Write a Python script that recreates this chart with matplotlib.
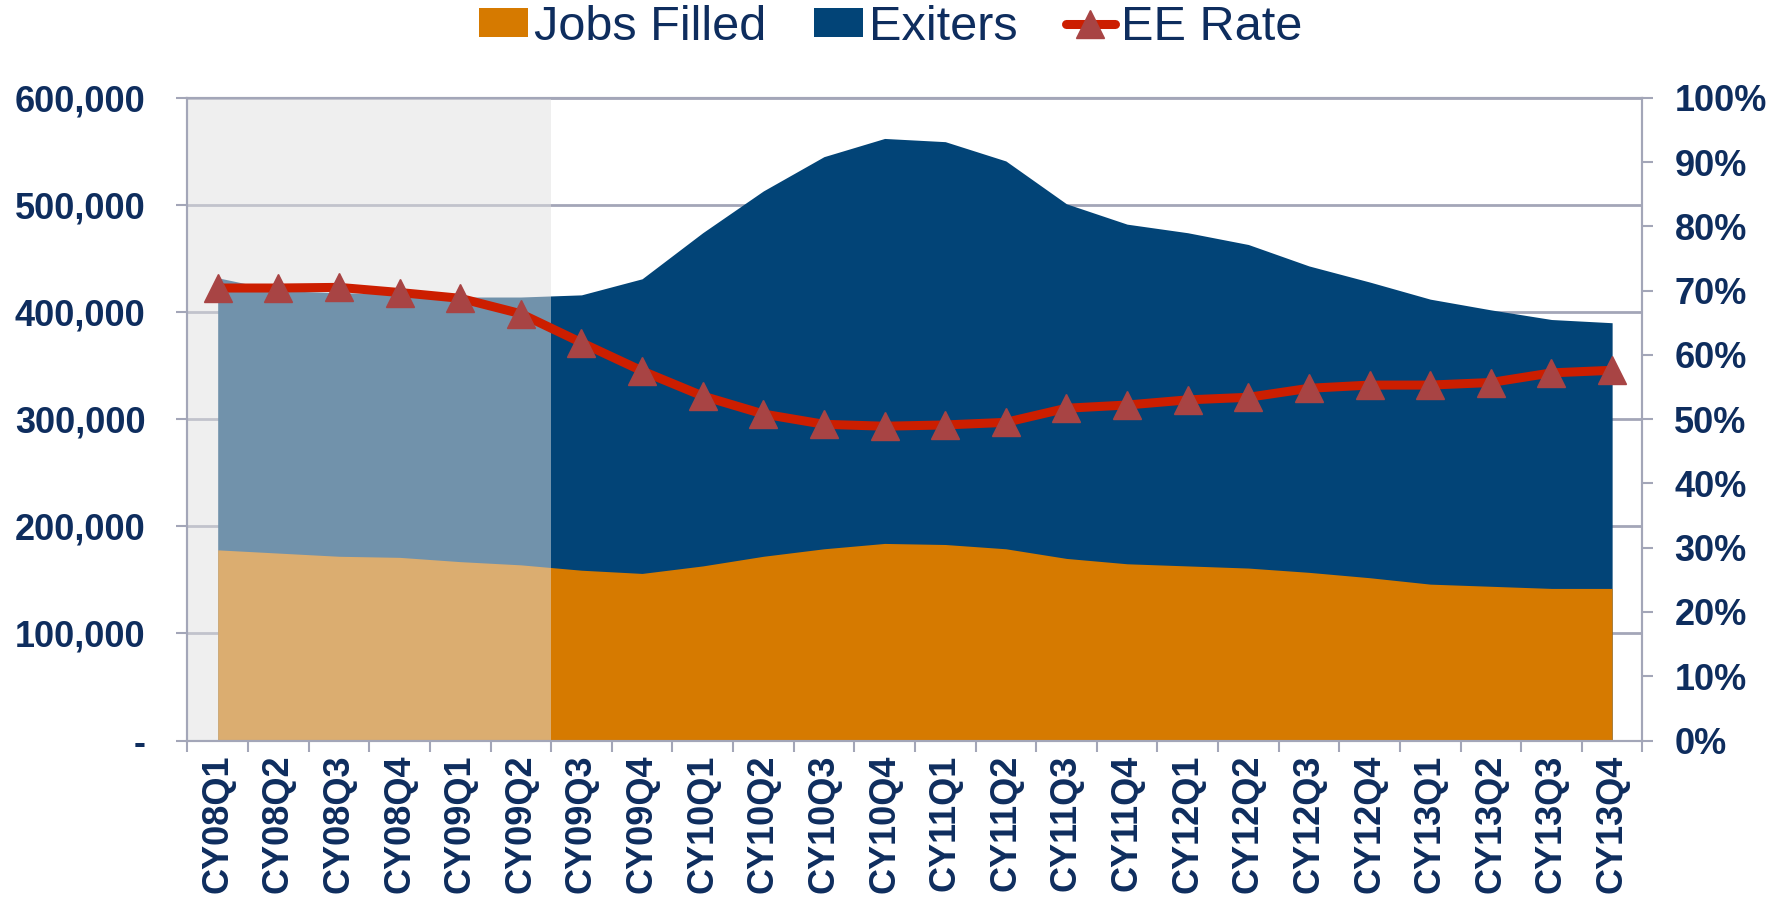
import numpy as np
import matplotlib
matplotlib.use('Agg')
import matplotlib.pyplot as plt
from matplotlib.patches import Patch
from matplotlib.lines import Line2D
from matplotlib.ticker import FuncFormatter, MultipleLocator

# quarterly values
quarters = ['CY08Q1', 'CY08Q2', 'CY08Q3', 'CY08Q4', 'CY09Q1', 'CY09Q2',
            'CY09Q3', 'CY09Q4', 'CY10Q1', 'CY10Q2', 'CY10Q3', 'CY10Q4',
            'CY11Q1', 'CY11Q2', 'CY11Q3', 'CY11Q4', 'CY12Q1', 'CY12Q2',
            'CY12Q3', 'CY12Q4', 'CY13Q1', 'CY13Q2', 'CY13Q3', 'CY13Q4']
jobs_filled = [178000, 175000, 172000, 171000, 167000, 164000,
               159000, 156000, 163000, 172000, 179000, 184000,
               183000, 179000, 170000, 165000, 163000, 161000,
               157000, 152000, 146000, 144000, 142000, 142000]
exiters = [432000, 420000, 418000, 417000, 414000, 414000,
           416000, 431000, 474000, 513000, 545000, 562000,
           559000, 541000, 501000, 482000, 474000, 463000,
           443000, 428000, 412000, 402000, 393000, 390000]
ee_rate = [70.4, 70.4, 70.5, 69.7, 68.8, 66.4,
           61.9, 57.5, 53.6, 50.8, 49.2, 48.9,
           49.1, 49.5, 51.7, 52.2, 53.0, 53.4,
           54.8, 55.3, 55.3, 55.7, 57.2, 57.6]

NAVY_TEXT = '#0E2D5E'
GRID = '#A3A6B8'
ORANGE = '#D67A00'
NAVY = '#024477'
RED = '#CC1E00'
MARKER = '#A84444'

plt.rcParams['font.family'] = ['Liberation Sans', 'DejaVu Sans']
plt.rcParams['font.weight'] = 'bold'

fig = plt.figure(figsize=(17.81, 9.05), dpi=100)
ax = fig.add_axes([0.1052, 0.1817, 0.8170, 0.7103])
x = np.arange(len(quarters))

ax.fill_between(x, exiters, color=NAVY, lw=0, zorder=1.0)
ax.fill_between(x, jobs_filled, color=ORANGE, lw=0, zorder=1.1)
# greyed-out early period
ax.axvspan(-0.5, 5.5, color='#E0E0E0', alpha=0.5, lw=0, zorder=2.0)

ax.set_xlim(-0.5, len(quarters) - 0.5)
ax.set_ylim(0, 600000)
ax.yaxis.set_major_locator(MultipleLocator(100000))
ax.yaxis.set_major_formatter(FuncFormatter(lambda v, p: '-' if v == 0 else f'{v:,.0f}'))
ax.grid(axis='y', color=GRID, lw=2)
ax.set_axisbelow(True)

ax.set_xticks(np.arange(-0.5, len(quarters), 1))
ax.set_xticks(x, minor=True)
ax.set_xticklabels(quarters, minor=True, rotation=90)
ax.tick_params(axis='x', which='major', length=8, width=1.5, color=GRID, labelbottom=False)
ax.tick_params(axis='x', which='minor', length=0, pad=10, labelsize=26, labelcolor=NAVY_TEXT)
ax.tick_params(axis='y', length=8, width=1.5, color=GRID, pad=22, labelsize=26, labelcolor=NAVY_TEXT)

for s in ax.spines.values():
    s.set_color(GRID)
    s.set_linewidth(1.5)

ax2 = ax.twinx()
ax2.plot(x, ee_rate, color=RED, lw=6.5, marker='^', ms=20, mfc=MARKER, mec=MARKER,
         solid_capstyle='round', solid_joinstyle='round', clip_on=False, zorder=3)
ax2.set_ylim(0, 100)
ax2.yaxis.set_major_locator(MultipleLocator(10))
ax2.yaxis.set_major_formatter(FuncFormatter(lambda v, p: f'{v:.0f}%'))
ax2.tick_params(axis='y', length=8, width=1.5, color=GRID, pad=15, labelsize=26, labelcolor=NAVY_TEXT)
for s in ax2.spines.values():
    s.set_color(GRID)
    s.set_linewidth(1.5)

handles = [Patch(facecolor=ORANGE, edgecolor='none', label='Jobs Filled'),
           Patch(facecolor=NAVY, edgecolor='none', label='Exiters'),
           Line2D([], [], color=RED, lw=6.5, marker='^', ms=20, mfc=MARKER, mec=MARKER,
                  solid_capstyle='round', label='EE Rate')]
fig.legend(handles=handles, loc='center', bbox_to_anchor=(0.5, 1 - 27 / 905), ncol=3,
           frameon=False, prop={'size': 35, 'weight': 'normal'}, labelcolor=NAVY_TEXT,
           handlelength=1.0, handleheight=0.55, handletextpad=0.12, columnspacing=1.0)

fig.savefig('out.png', dpi=100)
